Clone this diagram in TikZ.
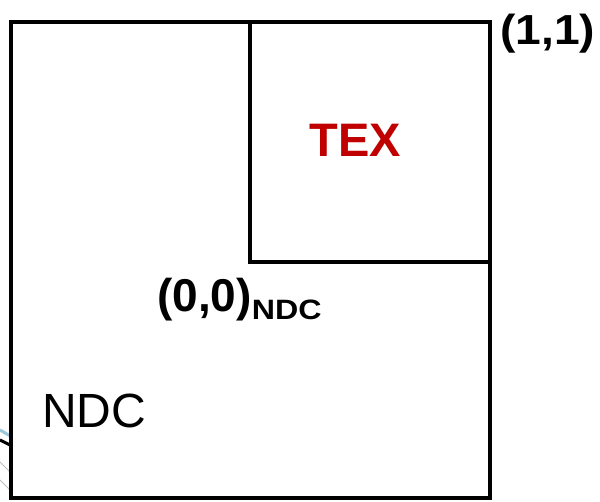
\documentclass[tikz,border=0pt]{standalone}
\usepackage{fontspec}
\setmainfont{Liberation Sans}
\definecolor{texred}{HTML}{C00000}
\definecolor{fragblue}{HTML}{9CC8DA}
\begin{document}
\begin{tikzpicture}[x=1pt,y=-1pt,
  box/.style={draw=black,line width=4pt},
  lbl/.style={inner sep=0pt,font=\fontsize{46}{50}\selectfont\bfseries}]
\useasboundingbox (0,0) rectangle (600,502);
\fill[white] (0,0) rectangle (600,502);
% fragments at left edge
\draw[fragblue,line width=3pt] (0,430) -- (12,437);
\draw[black,line width=3pt] (0,440) -- (12,446);
\draw[black!25,line width=1pt] (0,462) -- (10,472);
\draw[black!25,line width=1pt] (0,480) -- (10,490);
% boxes
\draw[box] (11,22) rectangle (490,498);
\draw[box] (250,22) rectangle (490,262);
\node[lbl,anchor=west,font=\fontsize{42}{46}\selectfont\bfseries] (one) at (500,34) {\scalebox{1.1}[1]{(1,1)}};
\node[lbl,anchor=center,text=texred,font=\fontsize{47}{52}\selectfont\bfseries] (tex) at (355,140) {TEX};
\node[lbl,anchor=base west] (zero) at (157,312) {(0,0)\raisebox{-8pt}{\scalebox{1.15}[1]{\fontsize{28}{30}\selectfont NDC}}};
\node[inner sep=0pt,anchor=base west,font=\fontsize{48}{52}\selectfont] (ndc) at (42,428) {NDC};
\end{tikzpicture}
\end{document}
